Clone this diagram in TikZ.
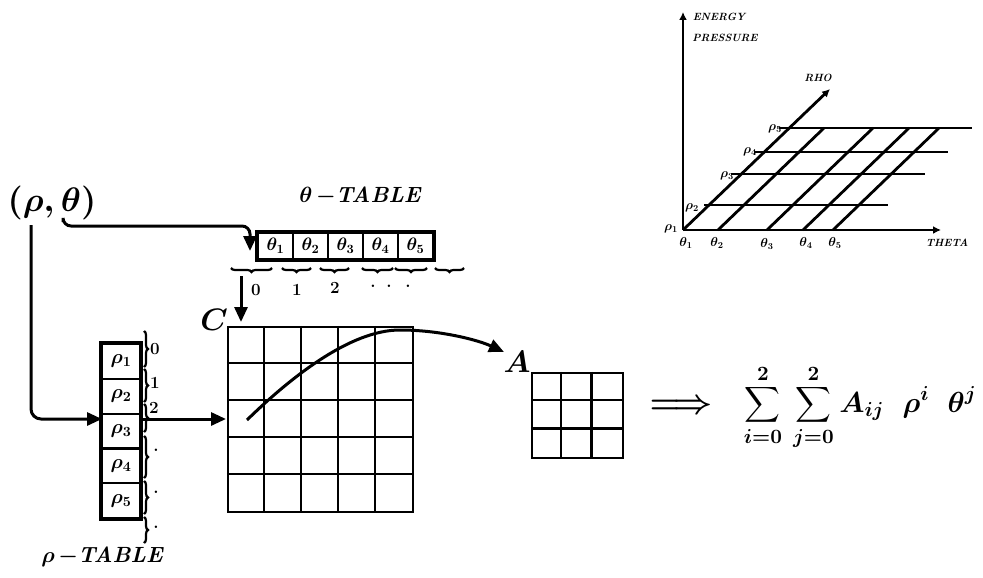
\documentclass[tikz,border=0pt]{standalone}
\usepackage{amsmath,bm}
\DeclareFontShape{OML}{cmm}{m}{it}{<->cmmi10}{}
\DeclareFontShape{OML}{cmm}{b}{it}{<->cmmib10}{}
\DeclareFontShape{OMS}{cmsy}{m}{n}{<->cmsy10}{}
\DeclareFontShape{OMS}{cmsy}{b}{n}{<->cmbsy10}{}
\DeclareFontShape{OT1}{cmr}{m}{n}{<->cmr10}{}
\DeclareFontShape{OT1}{cmr}{bx}{n}{<->cmbx10}{}
\usetikzlibrary{arrows.meta,decorations.pathreplacing,calc}
\begin{document}
\begin{tikzpicture}[x=1pt,y=-1pt,
  arr/.style={line width=3pt,-{Triangle[length=15pt,width=13pt]}},
  gridline/.style={line width=2.5pt},
  tcell/.style={draw,line width=2.2pt,minimum width=35pt,minimum height=26pt,inner sep=0pt,font=\fontsize{18}{20}\selectfont\boldmath},
  rcell/.style={draw,line width=2.2pt,minimum width=38pt,minimum height=34.8pt,inner sep=0pt,font=\fontsize{20}{22}\selectfont\boldmath},
  brc/.style={decorate,decoration={brace,amplitude=4pt},line width=2.2pt},
  brcm/.style={decorate,decoration={brace,mirror,amplitude=4pt},line width=2.2pt},
  idx/.style={inner sep=0pt,font=\fontsize{17}{19}\selectfont\bfseries},
  plotline/.style={line width=2.8pt},
  plotarr/.style={line width=2.8pt,-{Latex[length=8pt,width=8pt]}},
  tinylbl/.style={inner sep=0pt,font=\fontsize{10.5}{11}\selectfont\bfseries\itshape},
  tinymath/.style={inner sep=0pt,font=\fontsize{13}{14}\selectfont\boldmath},
  title/.style={inner sep=0pt,font=\fontsize{22}{24}\selectfont\bfseries\itshape\boldmath}
]
\useasboundingbox (0,0) rectangle (983,578);

% ---------- (rho,theta) ----------
\node[inner sep=0pt,font=\fontsize{34}{38}\selectfont\boldmath] (pair) at (52,203) {$(\rho,\theta)$};
\coordinate (pr) at (31,225);
\coordinate (pt) at (63,222);

% ---------- theta table ----------
\node[title] (ttitle) at (360,196) {$\theta$\,$-$TABLE};
\node[tcell] (t1) at (275.5,246) {$\theta_1$};
\node[tcell] (t2) at (310.5,246) {$\theta_2$};
\node[tcell] (t3) at (345.5,246) {$\theta_3$};
\node[tcell] (t4) at (380.5,246) {$\theta_4$};
\node[tcell] (t5) at (415.5,246) {$\theta_5$};
\draw[line width=3pt] (t1.north west) rectangle (t5.south east);

\draw[brcm] (231,268) -- (272,268);
\draw[brcm] (282,268) -- (311,268);
\draw[brcm] (320,268) -- (349,268);
\draw[brcm] (362,268) -- (393,268);
\draw[brcm] (395,268) -- (427,268);
\draw[brcm] (435,268) -- (464,268);
\node[idx] (tl0) at (256,290) {0};
\node[idx] (tl1) at (297,290) {1};
\node[idx] (tl2) at (335,288) {2};
\node[idx] (tl3) at (373,286) {.};
\node[idx] (tl4) at (389,286) {.};
\node[idx] (tl5) at (408,286) {.};

\coordinate (tcorner) at (250,226);
\coordinate (tin) at (250,251);
\draw[arr,rounded corners=8pt] (pt) |- (tcorner) -- (tin);

% ---------- rho table ----------
\node[rcell] (r1) at (121,361.4) {$\rho_1$};
\node[rcell] (r2) at (121,396.2) {$\rho_2$};
\node[rcell] (r3) at (121,431.0) {$\rho_3$};
\node[rcell] (r4) at (121,465.8) {$\rho_4$};
\node[rcell] (r5) at (121,500.6) {$\rho_5$};
\draw[line width=3pt] (r1.north west) rectangle (r5.south east);
\node[title] (rtitle) at (102,557) {$\rho$\,$-$TABLE};

\draw[brc] (144,331) -- (144,367);
\draw[brc] (144,369) -- (144,402);
\draw[brc] (144,404) -- (144,432);
\draw[brc] (144,436) -- (144,478);
\draw[brc] (144,481) -- (144,514);
\draw[brc] (144,517) -- (144,543);
\node[idx] (rl0) at (155,349) {0};
\node[idx] (rl1) at (155,383) {1};
\node[idx] (rl2) at (154,408) {2};
\node[idx] (rl3) at (156,450) {.};
\node[idx] (rl4) at (156,492) {.};
\node[idx] (rl5) at (156,527) {.};

\coordinate (rin) at (102,419);
\draw[arr,rounded corners=10pt] (pr) |- (rin);

% ---------- grid C ----------
\node[draw,line width=2.5pt,minimum size=185pt,inner sep=0pt] (C) at (320.5,419.5) {};
\foreach \i in {1,...,4} {
  \draw[gridline] ($(C.north west)+(37*\i,0)$) -- ($(C.south west)+(37*\i,0)$);
  \draw[gridline] ($(C.north west)+(0,37*\i)$) -- ($(C.north east)+(0,37*\i)$);
}
\node[inner sep=0pt,font=\fontsize{31}{33}\selectfont\boldmath] (Clbl) at (214,320) {$C$};

\coordinate (rout) at (143,419);
\coordinate (cin) at (226,419);
\draw[arr] (rout) -- (cin);

\coordinate (b0) at (241,276);
\coordinate (c0) at (241,322);
\draw[arr] (b0) -- (c0);

% ---------- curve ----------
\coordinate (cs) at (247,420);
\coordinate (cp) at (400,330);
\coordinate (ce) at (504,352);
\draw[line width=3pt,-{Triangle[length=15pt,width=13pt]}] (cs) .. controls (290,378) and (350,330) .. (cp) .. controls (440,330) and (478,340) .. (ce);

% ---------- matrix A ----------
\node[draw,line width=2.5pt,minimum width=91pt,minimum height=85pt,inner sep=0pt] (A) at (577.5,415.5) {};
\foreach \i in {1,2} {
  \draw[gridline] ($(A.north west)+(91/3*\i,0)$) -- ($(A.south west)+(91/3*\i,0)$);
  \draw[gridline] ($(A.north west)+(0,85/3*\i)$) -- ($(A.north east)+(0,85/3*\i)$);
}
\node[inner sep=0pt,font=\fontsize{31}{33}\selectfont\boldmath] (Albl) at (517,362) {$A$};

% ---------- implication and formula ----------
\node[inner sep=0pt,font=\fontsize{34}{36}\selectfont] (impl) at (681,407) {$\bm{\Longrightarrow}$};
\node[inner sep=0pt,font=\fontsize{29}{33}\selectfont\boldmath] (formula) at (860,407)
  {$\displaystyle\sum_{i=0}^{2}\,\sum_{j=0}^{2}A_{ij}\;\;\rho^{i}\;\;\theta^{j}$};

% ---------- plot ----------
\coordinate (O) at (683,230);
\coordinate (Yt) at (683,12);
\coordinate (Xe) at (941,230);
\coordinate (Re) at (830,89);
\draw[plotarr] (O) -- (Yt);
\draw[plotarr] (O) -- (Xe);
\draw[plotarr] (O) -- (Re);
\coordinate (h1a) at (704,205); \coordinate (h1b) at (888,205);
\coordinate (h2a) at (731,174); \coordinate (h2b) at (925,174);
\coordinate (h3a) at (754,152); \coordinate (h3b) at (948,152);
\coordinate (h4a) at (779,128); \coordinate (h4b) at (972,128);
\draw[plotline] (h1a) -- (h1b);
\draw[plotline] (h2a) -- (h2b);
\draw[plotline] (h3a) -- (h3b);
\draw[plotline] (h4a) -- (h4b);
\coordinate (d1a) at (718,230); \coordinate (d1b) at (824,128);
\coordinate (d2a) at (767,230); \coordinate (d2b) at (873,128);
\coordinate (d3a) at (803,230); \coordinate (d3b) at (909,128);
\coordinate (d4a) at (833,230); \coordinate (d4b) at (939,128);
\draw[plotline] (d1a) -- (d1b);
\draw[plotline] (d2a) -- (d2b);
\draw[plotline] (d3a) -- (d3b);
\draw[plotline] (d4a) -- (d4b);

\node[tinylbl] (energy) at (719,17) {ENERGY};
\node[tinylbl] (pressure) at (725,38) {PRESSURE};
\node[tinylbl] (rho) at (818,78) {RHO};
\node[tinylbl] (theta) at (947,243) {THETA};
\node[tinymath] (p1) at (671,229) {$\rho_1$};
\node[tinymath] (p2) at (692,208) {$\rho_2$};
\node[tinymath] (p3) at (727,176) {$\rho_3$};
\node[tinymath] (p4) at (750,152) {$\rho_4$};
\node[tinymath] (p5) at (775,129) {$\rho_5$};
\node[tinymath] (q1) at (686,243) {$\theta_1$};
\node[tinymath] (q2) at (717,243) {$\theta_2$};
\node[tinymath] (q3) at (767,244) {$\theta_3$};
\node[tinymath] (q4) at (806,243) {$\theta_4$};
\node[tinymath] (q5) at (835,243) {$\theta_5$};
\end{tikzpicture}
\end{document}
